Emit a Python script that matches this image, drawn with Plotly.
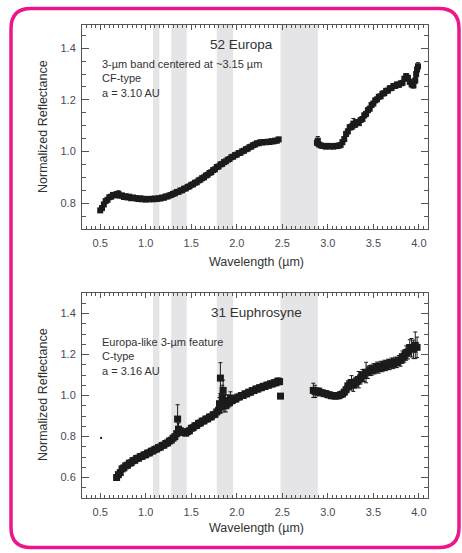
import plotly.graph_objects as go

# ---------------- data ----------------
# 52 Europa (top panel)
eur_wl_a = [0.50, 0.52, 0.54, 0.56, 0.58, 0.60, 0.62, 0.64, 0.66, 0.68, 0.70, 0.72, 0.74, 0.76, 0.78,
            0.80, 0.82, 0.84, 0.86, 0.88, 0.90, 0.92, 0.94, 0.96, 0.98, 1.00, 1.02, 1.04, 1.06, 1.08,
            1.10, 1.12, 1.14, 1.16, 1.18, 1.20, 1.22, 1.24, 1.26, 1.28, 1.30, 1.32, 1.34, 1.36, 1.38,
            1.40, 1.42, 1.44, 1.46, 1.48, 1.50, 1.52, 1.54, 1.56, 1.58, 1.60, 1.62, 1.64, 1.66, 1.68,
            1.70, 1.72, 1.74, 1.76, 1.78, 1.80, 1.82, 1.84, 1.86, 1.88, 1.90, 1.92, 1.94, 1.96, 1.98,
            2.00, 2.02, 2.04, 2.06, 2.08, 2.10, 2.12, 2.14, 2.16, 2.18, 2.20, 2.22, 2.24, 2.26, 2.28,
            2.30, 2.32, 2.34, 2.36, 2.38, 2.40, 2.42, 2.44, 2.46]
eur_rf_a = [0.772, 0.781, 0.795, 0.808, 0.813, 0.823, 0.825, 0.832, 0.830, 0.835, 0.836, 0.829, 0.830, 0.824, 0.827,
            0.822, 0.825, 0.819, 0.822, 0.820, 0.818, 0.816, 0.819, 0.815, 0.817, 0.814, 0.816, 0.815, 0.817, 0.815,
            0.818, 0.816, 0.819, 0.818, 0.822, 0.821, 0.826, 0.826, 0.830, 0.832, 0.836, 0.838, 0.843, 0.844, 0.849,
            0.850, 0.856, 0.857, 0.863, 0.865, 0.871, 0.873, 0.879, 0.881, 0.888, 0.891, 0.897, 0.900, 0.907, 0.910,
            0.917, 0.920, 0.928, 0.931, 0.940, 0.942, 0.950, 0.952, 0.959, 0.962, 0.968, 0.971, 0.978, 0.980, 0.986,
            0.988, 0.994, 0.995, 1.001, 1.003, 1.009, 1.011, 1.017, 1.019, 1.025, 1.027, 1.032, 1.032, 1.036, 1.035,
            1.037, 1.036, 1.038, 1.037, 1.040, 1.039, 1.042, 1.042, 1.047]
eur_er_a = [0.008, 0.006, 0.005, 0.005, 0.005, 0.005, 0.005, 0.005, 0.006, 0.007, 0.012, 0.006, 0.005, 0.005, 0.005,
            0.005, 0.005, 0.005, 0.004, 0.004, 0.004, 0.004, 0.004, 0.004, 0.004, 0.004, 0.004, 0.004, 0.004, 0.004,
            0.004, 0.004, 0.004, 0.004, 0.004, 0.004, 0.005, 0.005, 0.006, 0.006, 0.005, 0.005, 0.005, 0.005, 0.005,
            0.005, 0.005, 0.005, 0.005, 0.005, 0.005, 0.005, 0.005, 0.005, 0.005, 0.005, 0.005, 0.005, 0.006, 0.006,
            0.006, 0.006, 0.006, 0.007, 0.008, 0.008, 0.008, 0.008, 0.007, 0.007, 0.006, 0.006, 0.006, 0.006, 0.006,
            0.005, 0.005, 0.005, 0.005, 0.005, 0.005, 0.005, 0.005, 0.005, 0.005, 0.005, 0.005, 0.005, 0.005, 0.005,
            0.005, 0.005, 0.005, 0.005, 0.005, 0.006, 0.006, 0.007, 0.008]
eur_wl_b = [2.88, 2.89, 2.90, 2.92, 2.94, 2.96, 2.98, 3.00, 3.02, 3.04, 3.06, 3.08, 3.10, 3.12, 3.14,
            3.16, 3.18, 3.20, 3.22, 3.24, 3.26, 3.28, 3.30, 3.32, 3.34, 3.36, 3.38, 3.40, 3.42, 3.44,
            3.46, 3.48, 3.50, 3.52, 3.54, 3.56, 3.58, 3.60, 3.62, 3.64, 3.66, 3.68, 3.70, 3.72, 3.74,
            3.76, 3.78, 3.80, 3.82, 3.84, 3.86, 3.88, 3.90, 3.92, 3.94, 3.96, 3.97, 3.98, 3.99]
eur_rf_b = [1.034, 1.042, 1.028, 1.024, 1.022, 1.021, 1.019, 1.022, 1.020, 1.021, 1.019, 1.022, 1.021, 1.023, 1.025,
            1.036, 1.048, 1.068, 1.078, 1.094, 1.096, 1.108, 1.104, 1.114, 1.110, 1.122, 1.126, 1.140, 1.146, 1.160,
            1.166, 1.180, 1.186, 1.198, 1.202, 1.212, 1.214, 1.224, 1.226, 1.235, 1.236, 1.245, 1.246, 1.254, 1.254,
            1.260, 1.258, 1.264, 1.266, 1.282, 1.292, 1.285, 1.270, 1.260, 1.256, 1.275, 1.300, 1.318, 1.330]
eur_er_b = [0.010, 0.016, 0.008, 0.006, 0.005, 0.005, 0.005, 0.005, 0.005, 0.005, 0.005, 0.005, 0.005, 0.005, 0.006,
            0.008, 0.008, 0.010, 0.010, 0.010, 0.012, 0.020, 0.010, 0.010, 0.009, 0.009, 0.009, 0.009, 0.009, 0.009,
            0.009, 0.009, 0.008, 0.008, 0.008, 0.007, 0.007, 0.007, 0.007, 0.007, 0.007, 0.007, 0.007, 0.007, 0.007,
            0.007, 0.007, 0.007, 0.008, 0.008, 0.010, 0.010, 0.010, 0.010, 0.010, 0.012, 0.012, 0.012, 0.014]

# 31 Euphrosyne (bottom panel)
eup_wl_dot = [0.51]
eup_rf_dot = [0.793]
eup_wl_a = [0.68, 0.70, 0.72, 0.74, 0.76, 0.78, 0.80, 0.82, 0.84, 0.86, 0.88, 0.90, 0.92, 0.94, 0.96,
            0.98, 1.00, 1.02, 1.04, 1.06, 1.08, 1.10, 1.12, 1.14, 1.16, 1.18, 1.20, 1.22, 1.24, 1.26,
            1.28, 1.30, 1.32, 1.34, 1.35, 1.36, 1.38, 1.40, 1.42, 1.44, 1.46, 1.48, 1.50, 1.52, 1.54,
            1.56, 1.58, 1.60, 1.62, 1.64, 1.66, 1.68, 1.70, 1.72, 1.74, 1.76, 1.78, 1.80, 1.81, 1.82,
            1.83, 1.84, 1.85, 1.86, 1.87, 1.88, 1.90, 1.92, 1.93, 1.95, 1.97, 1.99, 2.01, 2.03, 2.05,
            2.07, 2.09, 2.11, 2.13, 2.15, 2.17, 2.19, 2.21, 2.23, 2.25, 2.27, 2.29, 2.31, 2.33, 2.35,
            2.37, 2.39, 2.41, 2.43, 2.45, 2.47, 2.48]
eup_rf_a = [0.600, 0.614, 0.624, 0.642, 0.647, 0.657, 0.660, 0.670, 0.672, 0.682, 0.684, 0.693, 0.694, 0.702, 0.703,
            0.710, 0.711, 0.719, 0.720, 0.728, 0.730, 0.737, 0.739, 0.746, 0.748, 0.756, 0.758, 0.766, 0.769, 0.778,
            0.782, 0.792, 0.799, 0.814, 0.885, 0.836, 0.828, 0.820, 0.822, 0.816, 0.824, 0.828, 0.840, 0.843, 0.852,
            0.854, 0.864, 0.866, 0.875, 0.876, 0.885, 0.886, 0.895, 0.896, 0.906, 0.908, 0.920, 0.928, 0.960, 1.085,
            0.945, 0.990, 1.025, 0.960, 0.975, 0.950, 0.972, 0.965, 0.988, 0.975, 0.982, 0.983, 0.992, 0.993, 1.000,
            1.000, 1.008, 1.008, 1.016, 1.016, 1.024, 1.024, 1.032, 1.031, 1.038, 1.038, 1.045, 1.044, 1.051, 1.050,
            1.057, 1.056, 1.062, 1.062, 1.070, 1.068, 0.997]
eup_er_a = [0.010, 0.010, 0.010, 0.012, 0.010, 0.008, 0.008, 0.008, 0.007, 0.007, 0.007, 0.007, 0.007, 0.007, 0.007,
            0.007, 0.007, 0.007, 0.007, 0.007, 0.007, 0.007, 0.007, 0.007, 0.007, 0.007, 0.007, 0.007, 0.008, 0.008,
            0.008, 0.008, 0.010, 0.012, 0.070, 0.030, 0.015, 0.012, 0.010, 0.010, 0.008, 0.008, 0.008, 0.008, 0.008,
            0.008, 0.008, 0.008, 0.008, 0.008, 0.008, 0.008, 0.008, 0.008, 0.008, 0.010, 0.012, 0.015, 0.030, 0.075,
            0.030, 0.060, 0.050, 0.040, 0.030, 0.030, 0.030, 0.020, 0.030, 0.015, 0.012, 0.010, 0.010, 0.010, 0.010,
            0.010, 0.010, 0.010, 0.010, 0.010, 0.010, 0.010, 0.010, 0.010, 0.010, 0.012, 0.012, 0.012, 0.012, 0.012,
            0.012, 0.012, 0.014, 0.014, 0.015, 0.016, 0.012]
eup_wl_b = [2.84, 2.86, 2.88, 2.90, 2.92, 2.94, 2.96, 2.98, 3.00, 3.02, 3.04, 3.06, 3.08, 3.10, 3.12,
            3.14, 3.16, 3.18, 3.20, 3.22, 3.24, 3.26, 3.28, 3.30, 3.32, 3.34, 3.36, 3.38, 3.40, 3.42,
            3.44, 3.46, 3.48, 3.50, 3.52, 3.54, 3.56, 3.58, 3.60, 3.62, 3.64, 3.66, 3.68, 3.70, 3.72,
            3.74, 3.76, 3.78, 3.80, 3.82, 3.84, 3.86, 3.88, 3.90, 3.92, 3.94, 3.96, 3.98]
eup_rf_b = [1.025, 1.020, 1.018, 1.021, 1.014, 1.013, 1.009, 1.009, 1.004, 1.003, 0.999, 0.999, 0.997, 0.998, 0.999,
            1.004, 1.007, 1.016, 1.028, 1.047, 1.053, 1.062, 1.050, 1.064, 1.068, 1.077, 1.086, 1.097, 1.098, 1.112,
            1.113, 1.122, 1.123, 1.130, 1.131, 1.138, 1.134, 1.142, 1.141, 1.147, 1.146, 1.152, 1.151, 1.158, 1.156,
            1.162, 1.161, 1.170, 1.173, 1.187, 1.193, 1.207, 1.213, 1.232, 1.233, 1.225, 1.245, 1.235]
eup_er_b = [0.035, 0.030, 0.020, 0.015, 0.012, 0.012, 0.012, 0.012, 0.012, 0.012, 0.012, 0.012, 0.012, 0.012, 0.012,
            0.012, 0.012, 0.015, 0.020, 0.025, 0.025, 0.035, 0.030, 0.025, 0.025, 0.040, 0.030, 0.030, 0.030, 0.050,
            0.030, 0.025, 0.025, 0.025, 0.025, 0.025, 0.025, 0.025, 0.025, 0.025, 0.025, 0.025, 0.025, 0.025, 0.025,
            0.025, 0.025, 0.025, 0.030, 0.030, 0.030, 0.035, 0.035, 0.040, 0.045, 0.045, 0.065, 0.050]

# gaps (telluric absorption regions) in micrometres
band_start = [1.08, 1.28, 1.78, 2.48]
band_end = [1.15, 1.45, 1.96, 2.89]

x_ticks = [0.5, 1.0, 1.5, 2.0, 2.5, 3.0, 3.5, 4.0]

# ---------------- figure ----------------
W, H = 462, 553
FONT = "Liberation Sans, Arial, sans-serif"
INK = "#1b1b1b"
TXT = "#333333"

fig = go.Figure()


def add_series(x, y, e, xa, ya, size=5):
    fig.add_trace(go.Scatter(
        x=x, y=y, mode="markers", xaxis=xa, yaxis=ya,
        marker=dict(symbol="square", size=size, color=INK),
        error_y=dict(type="data", array=e, visible=True, color=INK, thickness=1, width=2),
        showlegend=False, hoverinfo="x+y"))


add_series(eur_wl_a, eur_rf_a, eur_er_a, "x", "y", 6)
add_series(eur_wl_b, eur_rf_b, eur_er_b, "x", "y", 6)
add_series(eup_wl_a, eup_rf_a, eup_er_a, "x2", "y2", 7)
add_series(eup_wl_b, eup_rf_b, eup_er_b, "x2", "y2", 7)
fig.add_trace(go.Scatter(x=eup_wl_dot, y=eup_rf_dot, mode="markers", xaxis="x2", yaxis="y2",
                         marker=dict(symbol="square", size=2, color=INK), showlegend=False))

# gray bands
for xr, yr in (("x", "y domain"), ("x2", "y2 domain")):
    for a, b in zip(band_start, band_end):
        fig.add_shape(type="rect", xref=xr, yref=yr, x0=a, x1=b, y0=0, y1=1,
                      fillcolor="#e5e5e7", line=dict(width=0), layer="below")


def px_x(p):
    return p / W


def px_y(p):
    return 1 - p / H


xdom = [px_x(82), px_x(428)]
top_dom = [px_y(229), px_y(25)]
bot_dom = [px_y(498), px_y(293)]

axis_common = dict(
    showline=True, linecolor="#555555", linewidth=1, mirror="allticks",
    ticks="inside", tickcolor="#555555", showgrid=False, zeroline=False,
    tickfont=dict(family=FONT, size=11, color="#4a4a55"),
)

xa = dict(axis_common, range=[0.3, 4.1], tickvals=x_ticks, tickformat=".1f", ticklen=5,
          minor=dict(dtick=0.05, tick0=0.0, ticklen=3, ticks="inside", tickcolor="#555555"),
          ticklabelstandoff=4)

fig.update_layout(
    width=W, height=H,
    margin=dict(l=0, r=0, t=0, b=0),
    paper_bgcolor="white", plot_bgcolor="white",
    font=dict(family=FONT, color=TXT),
    xaxis=dict(xa, domain=xdom, anchor="y"),
    yaxis=dict(axis_common, domain=top_dom, anchor="x", range=[0.70, 1.49],
               tickvals=[0.8, 1.0, 1.2, 1.4], tickformat=".1f", ticklen=7,
               minor=dict(dtick=0.05, tick0=0.0, ticklen=4, ticks="inside", tickcolor="#555555"),
               ticklabelstandoff=3),
    xaxis2=dict(xa, domain=xdom, anchor="y2"),
    yaxis2=dict(axis_common, domain=bot_dom, anchor="x2", range=[0.50, 1.50],
                tickvals=[0.6, 0.8, 1.0, 1.2, 1.4], tickformat=".1f", ticklen=7,
                minor=dict(dtick=0.05, tick0=0.0, ticklen=4, ticks="inside", tickcolor="#555555"),
                ticklabelstandoff=3),
)

ann = []


def add_text(text, xp, yp, size, xanchor="center", yanchor="middle", angle=0, color=TXT, align="left"):
    ann.append(dict(text=text, x=px_x(xp), y=px_y(yp), xref="paper", yref="paper",
                    xanchor=xanchor, yanchor=yanchor, showarrow=False, textangle=angle,
                    align=align, font=dict(family=FONT, size=size, color=color)))


add_text("52 Europa", 241, 45, 13.5)
add_text("3-µm band centered at ~3.15 µm<br>CF-type<br>a = 3.10 AU", 100, 56, 11,
         xanchor="left", yanchor="top")
add_text("31 Euphrosyne", 256, 312, 13.5)
add_text("Europa-like 3-µm feature<br>C-type<br>a = 3.16 AU", 100, 334, 11,
         xanchor="left", yanchor="top")
add_text("Normalized Reflectance", 43, 127, 12.5, angle=-90)
add_text("Normalized Reflectance", 43, 395, 12.5, angle=-90)
add_text("Wavelength (µm)", 256, 262, 12.5)
add_text("Wavelength (µm)", 256, 528, 12.5)
fig.update_layout(annotations=ann)

# pink rounded frame
x0, x1 = px_x(11), px_x(459)
yt, yb = px_y(8.5), px_y(547.5)
rx, ry = 20 / W, 20 / H
path = (f"M {x0+rx},{yt} L {x1-rx},{yt} Q {x1},{yt} {x1},{yt-ry} "
        f"L {x1},{yb+ry} Q {x1},{yb} {x1-rx},{yb} "
        f"L {x0+rx},{yb} Q {x0},{yb} {x0},{yb+ry} "
        f"L {x0},{yt-ry} Q {x0},{yt} {x0+rx},{yt} Z")
fig.add_shape(type="path", path=path, xref="paper", yref="paper",
              line=dict(color="#ec168c", width=3.5), fillcolor="rgba(0,0,0,0)", layer="above")

fig.write_html("out.html")
